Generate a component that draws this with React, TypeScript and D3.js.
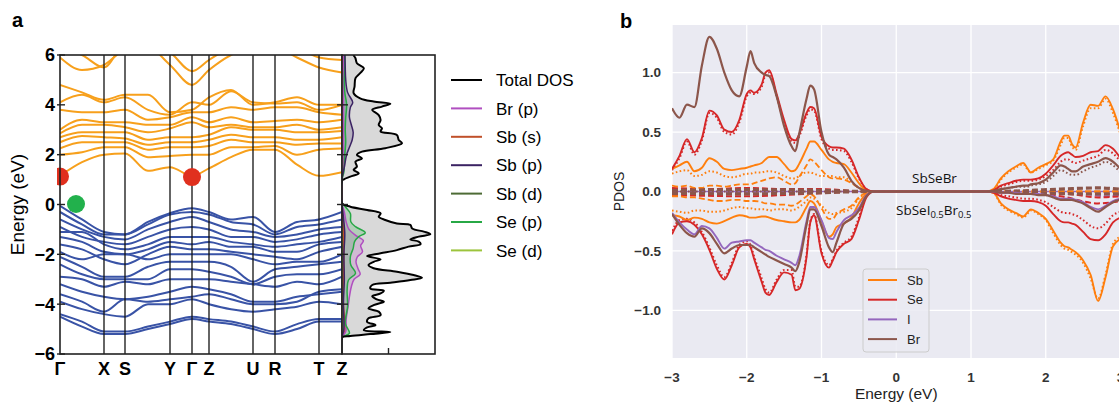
import React from "react";
import * as d3 from "d3";

// ---------------- Panel a data ----------------
const kLabels = ["Γ", "X", "S", "Y", "Γ", "Z", "U", "R", "T", "Z"];
const kTickPos = [0, 44, 65, 110, 132, 149, 193, 215, 259, 282];
const kSample = [0, 22, 44, 65, 88, 110, 132, 149, 171, 193, 215, 237, 259, 282];
const energyTicksA = [-6, -4, -2, 0, 2, 4, 6];

const conductionBands = [
  [1.15, 1.7, 2.0, 2.05, 1.35, 1.5, 1.15, 1.45, 1.9, 2.2, 2.2, 1.6, 1.15, 1.3],
  [2.0, 2.1, 2.3, 2.3, 1.9, 1.95, 2.0, 2.0, 2.3, 2.3, 2.35, 2.0, 2.2, 2.25],
  [2.25, 2.5, 2.5, 2.5, 2.2, 2.3, 2.3, 2.35, 2.6, 2.5, 2.5, 2.4, 2.45, 2.45],
  [2.5, 2.75, 2.7, 2.65, 2.4, 2.5, 2.5, 2.6, 2.8, 2.7, 2.7, 2.6, 2.6, 2.7],
  [2.7, 2.9, 2.9, 2.9, 2.6, 2.7, 2.7, 2.8, 3.1, 3.0, 3.0, 2.9, 2.9, 2.95],
  [2.85, 3.2, 3.2, 3.1, 2.9, 3.05, 3.3, 3.1, 3.2, 3.1, 3.1, 3.2, 3.0, 3.1],
  [3.0, 3.4, 3.3, 3.3, 3.2, 3.2, 3.5, 3.3, 3.5, 3.3, 3.35, 3.4, 3.3, 3.4],
  [3.8, 3.7, 3.7, 3.8, 3.4, 3.5, 3.7, 3.7, 3.9, 3.8, 3.9, 3.9, 3.7, 3.6],
  [4.1, 4.4, 4.1, 4.3, 3.8, 3.6, 4.1, 4.0, 4.55, 4.1, 4.05, 4.1, 3.8, 4.0],
  [4.8, 4.5, 4.2, 4.4, 4.4, 3.7, 3.8, 4.3, 4.6, 4.0, 4.1, 4.3, 4.0, 4.0],
  [5.9, 5.4, 5.6, 6.2, 6.3, 5.6, 4.8, 5.4, 6.0, 6.3, 6.3, 5.9, 5.5, 5.3],
  [6.3, 6.0, 5.5, 6.4, 6.4, 6.1, 5.35, 5.8, 6.3, 6.5, 6.5, 6.3, 5.9, 5.8],
];

const valenceBands = [
  [-0.05, -0.6, -1.1, -1.2, -0.7, -0.35, -0.15, -0.3, -0.6, -0.5, -1.1, -0.7, -0.6, -0.3],
  [-0.3, -0.8, -1.2, -1.2, -0.8, -0.4, -0.3, -0.4, -0.7, -0.8, -1.2, -0.9, -0.8, -0.6],
  [-0.6, -1.0, -1.3, -1.4, -1.0, -0.7, -0.5, -0.7, -1.0, -1.1, -1.3, -1.2, -1.0, -0.9],
  [-0.9, -1.3, -1.5, -1.6, -1.3, -1.0, -0.9, -1.0, -1.3, -1.3, -1.5, -1.4, -1.2, -1.1],
  [-1.1, -1.1, -1.6, -1.8, -1.6, -1.3, -1.3, -1.3, -1.5, -1.6, -1.7, -1.6, -1.5, -1.3],
  [-1.3, -1.5, -1.9, -2.0, -1.8, -1.5, -1.6, -1.5, -1.7, -1.7, -1.9, -1.9, -1.6, -1.5],
  [-1.6, -1.8, -2.2, -2.4, -2.0, -1.7, -1.8, -1.8, -1.9, -2.0, -2.1, -2.2, -1.9, -1.7],
  [-1.9, -2.2, -2.0, -2.0, -2.2, -2.0, -2.0, -2.0, -2.0, -2.2, -2.4, -2.3, -2.3, -2.0],
  [-2.1, -2.5, -2.9, -2.9, -2.5, -2.3, -2.3, -2.3, -2.5, -3.1, -2.6, -2.5, -2.4, -2.3],
  [-2.4, -2.8, -3.0, -3.0, -3.0, -2.6, -2.6, -2.7, -2.9, -3.2, -2.9, -2.8, -2.8, -2.6],
  [-2.9, -3.0, -3.3, -3.1, -3.2, -3.0, -3.0, -3.0, -3.1, -3.2, -3.3, -3.1, -3.2, -2.9],
  [-3.2, -3.5, -3.7, -3.8, -3.7, -3.5, -3.3, -3.4, -3.6, -3.9, -3.9, -3.7, -3.6, -3.5],
  [-3.6, -3.9, -4.3, -3.8, -3.9, -3.8, -3.7, -3.6, -3.8, -4.0, -4.0, -3.9, -3.5, -3.4],
  [-3.9, -4.2, -4.4, -4.5, -4.0, -4.0, -3.8, -4.0, -4.2, -4.3, -4.2, -4.1, -3.9, -4.0],
  [-4.4, -4.7, -5.1, -5.1, -4.9, -4.7, -4.5, -4.6, -4.7, -4.9, -5.1, -4.8, -4.6, -4.6],
  [-4.5, -4.9, -5.2, -5.2, -5.0, -4.8, -4.6, -4.7, -4.8, -5.0, -5.2, -5.0, -4.7, -4.7],
];

// band-edge markers: [k, E]
const cbmMarkers = [[0, 1.12], [132, 1.1]];
const vbmMarkers = [[16, 0.02]];

// total DOS: energy (eV) and DOS value
const dosEnergy = [
  -5.45, -5.33, -5.28, -5.2, -5.12, -5.04, -4.93, -4.84, -4.71, -4.57, -4.44, -4.3, -4.17, -4.04,
  -3.9, -3.81, -3.68, -3.57, -3.46, -3.37, -3.23, -3.14, -3.03, -2.94, -2.83, -2.7, -2.56, -2.43,
  -2.3, -2.2, -2.07, -1.96, -1.83, -1.69, -1.59, -1.49, -1.4, -1.29, -1.19, -1.09, -0.96, -0.82,
  -0.76, -0.62, -0.49, -0.36, -0.22, -0.09, 0.05, 0.95, 1.01, 1.12, 1.25, 1.39, 1.52, 1.72,
  1.85, 1.99, 2.12, 2.26, 2.46, 2.59, 2.79, 2.93, 3.06, 3.19, 3.39, 3.59, 3.8, 3.93, 4.04, 4.13,
  4.26, 4.47, 4.73, 5.07, 5.27, 5.47, 5.67, 5.87, 6.0, 6.2,
];
const dosTotal = [
  0, 0, 1.8, 6.1, 10.4, 4.7, 5.4, 7.2, 5.4, 5.7, 8.3, 7.9, 5.7, 6.8,
  9.0, 7.5, 6.5, 8.3, 9.0, 6.1, 6.5, 10.4, 14.7, 17.2, 15.4, 11.8, 6.8, 5.7,
  6.8, 8.3, 5.4, 8.3, 11.8, 14.3, 16.9, 16.5, 14.7, 16.5, 19.0, 17.6, 15.1, 14.7,
  11.8, 9.3, 7.9, 8.3, 5.4, 1.8, 0, 0, 0.4, 1.8, 3.6, 2.5, 3.2, 2.9,
  4.3, 3.2, 4.3, 9.3, 12.9, 12.2, 11.8, 8.3, 8.6, 7.9, 8.3, 7.9, 6.5, 8.6, 10.4, 6.8,
  3.9, 2.5, 2.7, 2.9, 3.9, 4.7, 3.2, 2.9, 2.5, 2.5,
];

// projected DOS, [energy, value]
const brPDos = [[-5.45, 0], [-5.33, 0], [-5.1, 0.8], [-4.6, 0.9], [-4.1, 1.3], [-3.7, 1.6], [-3.3, 2.0], [-3.0, 2.6], [-2.8, 3.9], [-2.6, 3.5], [-2.3, 3.0], [-2.1, 3.3], [-1.9, 4.4], [-1.65, 4.0], [-1.45, 4.6], [-1.25, 3.0], [-1.0, 1.5], [-0.7, 0.9], [-0.3, 0.5], [0.05, 0], [1.0, 0], [1.5, 0.2], [2.5, 0.3], [3.5, 0.3], [4.5, 0.3], [6.2, 0.3]];
const sbSPDos = [[-5.45, 0], [-5.33, 0], [-5.1, 0.6], [-4.5, 0.5], [-4.0, 0.3], [-3.0, 0.3], [-2.0, 0.4], [-1.0, 0.3], [0.05, 0], [1.0, 0], [1.5, 0.3], [2.5, 0.2], [4.0, 0.2], [6.2, 0.15]];
const sbPPDos = [[-5.45, 0], [-5.33, 0], [-5.0, 0.4], [-4.0, 0.3], [-3.0, 0.5], [-2.0, 0.4], [-1.2, 0.6], [-0.5, 0.3], [0.05, 0], [1.0, 0], [1.5, 0.5], [2.0, 1.0], [2.3, 1.6], [2.6, 2.2], [2.9, 2.4], [3.2, 2.0], [3.5, 1.6], [3.9, 1.8], [4.1, 2.3], [4.5, 1.2], [5.0, 0.8], [5.5, 0.7], [6.2, 0.6]];
const sbDPDos = [[-5.45, 0], [-5.33, 0], [-5.0, 0.15], [-3.0, 0.1], [-1.0, 0.1], [0.05, 0], [1.0, 0], [2.5, 0.1], [6.2, 0.1]];
const sePPDos = [[-5.45, 0], [-5.33, 0], [-5.17, 1.6], [-4.77, 0.7], [-4.1, 1.2], [-3.43, 1.1], [-3.03, 1.4], [-2.76, 2.9], [-2.43, 1.9], [-2.09, 1.8], [-1.76, 2.4], [-1.49, 2.7], [-1.29, 3.6], [-1.13, 5.0], [-0.89, 2.9], [-0.69, 1.9], [-0.36, 1.8], [-0.09, 0.7], [0.05, 0], [1.0, 0], [1.3, 0.4], [2.0, 0.6], [2.5, 0.8], [3.0, 0.7], [3.5, 0.8], [4.0, 1.0], [4.5, 0.6], [5.0, 0.5], [5.5, 0.6], [6.2, 0.6]];
const seDPDos = [[-5.45, 0], [-5.33, 0], [-4.0, 0.08], [-1.0, 0.08], [0.05, 0], [1.0, 0], [3.0, 0.08], [6.2, 0.08]];

const legendA = [
  { name: "Total DOS", color: "#000000" },
  { name: "Br (p)", color: "#b04fc0" },
  { name: "Sb (s)", color: "#c0502a" },
  { name: "Sb (p)", color: "#3b2363" },
  { name: "Sb (d)", color: "#4d6b35" },
  { name: "Se (p)", color: "#27a845" },
  { name: "Se (d)", color: "#9cc43c" },
];

// ---------------- Panel b data ----------------
const eVal = [-3.0, -2.9, -2.8, -2.7, -2.6, -2.5, -2.4, -2.3, -2.2, -2.1, -2.0, -1.95, -1.9, -1.8, -1.75, -1.7, -1.6, -1.5, -1.4, -1.35, -1.3, -1.2, -1.15, -1.1, -1.0, -0.9, -0.85, -0.8, -0.7, -0.6, -0.5, -0.4, -0.3];
const eCond = [1.2, 1.3, 1.4, 1.5, 1.6, 1.7, 1.75, 1.8, 1.9, 2.0, 2.1, 2.2, 2.25, 2.3, 2.35, 2.4, 2.5, 2.6, 2.7, 2.8, 2.9, 3.0];

// SbSeBr (positive)
const sbTopV = [0.19, 0.22, 0.25, 0.17, 0.20, 0.28, 0.25, 0.19, 0.18, 0.19, 0.20, 0.21, 0.22, 0.24, 0.27, 0.29, 0.29, 0.23, 0.17, 0.18, 0.23, 0.36, 0.42, 0.42, 0.35, 0.27, 0.25, 0.24, 0.23, 0.16, 0.07, 0.01, 0];
const sbTopC = [0, 0.02, 0.11, 0.17, 0.21, 0.24, 0.20, 0.16, 0.20, 0.23, 0.27, 0.42, 0.47, 0.47, 0.40, 0.37, 0.58, 0.73, 0.72, 0.80, 0.69, 0.50];
const sbTopDotV = [0.15, 0.17, 0.18, 0.13, 0.14, 0.17, 0.16, 0.13, 0.12, 0.13, 0.15, 0.15, 0.16, 0.16, 0.17, 0.17, 0.16, 0.13, 0.11, 0.11, 0.13, 0.16, 0.16, 0.15, 0.13, 0.13, 0.13, 0.12, 0.12, 0.08, 0.03, 0.01, 0];
const sbTopDotC = [0, 0.01, 0.10, 0.16, 0.20, 0.23, 0.19, 0.16, 0.19, 0.22, 0.26, 0.39, 0.45, 0.45, 0.38, 0.35, 0.55, 0.70, 0.70, 0.78, 0.66, 0.48];
const sbTopDashV = [0.05, 0.04, 0.05, 0.03, 0.03, 0.05, 0.05, 0.04, 0.05, 0.06, 0.06, 0.06, 0.07, 0.09, 0.10, 0.11, 0.12, 0.09, 0.06, 0.07, 0.12, 0.22, 0.27, 0.25, 0.18, 0.12, 0.11, 0.11, 0.10, 0.07, 0.03, 0.01, 0];
const seTopV = [0.19, 0.30, 0.44, 0.33, 0.45, 0.68, 0.64, 0.52, 0.50, 0.60, 0.82, 0.85, 0.83, 0.90, 1.00, 1.02, 0.82, 0.60, 0.44, 0.43, 0.48, 0.66, 0.71, 0.70, 0.46, 0.38, 0.37, 0.37, 0.36, 0.27, 0.12, 0.02, 0];
const seTopC = [0, 0.01, 0.05, 0.07, 0.09, 0.10, 0.10, 0.10, 0.11, 0.15, 0.22, 0.30, 0.32, 0.33, 0.31, 0.29, 0.30, 0.33, 0.34, 0.39, 0.36, 0.28];
const seTopDotV = [0.18, 0.28, 0.42, 0.31, 0.43, 0.66, 0.62, 0.50, 0.48, 0.58, 0.80, 0.83, 0.82, 0.88, 0.98, 1.00, 0.80, 0.58, 0.42, 0.41, 0.46, 0.64, 0.69, 0.68, 0.44, 0.36, 0.35, 0.35, 0.34, 0.25, 0.11, 0.02, 0];
const seTopDotC = [0, 0.01, 0.04, 0.06, 0.08, 0.09, 0.09, 0.09, 0.10, 0.13, 0.18, 0.25, 0.27, 0.27, 0.25, 0.24, 0.26, 0.28, 0.30, 0.35, 0.32, 0.25];
const brTopV = [0.70, 0.62, 0.73, 0.71, 1.06, 1.30, 1.20, 1.00, 0.85, 0.80, 1.05, 1.18, 1.08, 1.00, 0.98, 0.97, 0.80, 0.55, 0.38, 0.34, 0.48, 0.78, 0.89, 0.86, 0.50, 0.31, 0.29, 0.27, 0.20, 0.09, 0.03, 0.005, 0];
const brTopC = [0, 0.005, 0.02, 0.03, 0.04, 0.05, 0.05, 0.06, 0.07, 0.10, 0.16, 0.22, 0.21, 0.19, 0.17, 0.17, 0.21, 0.23, 0.25, 0.28, 0.25, 0.19];
const brTopDotC = [0, 0.005, 0.02, 0.03, 0.04, 0.04, 0.04, 0.05, 0.06, 0.08, 0.13, 0.18, 0.17, 0.15, 0.14, 0.14, 0.17, 0.20, 0.22, 0.25, 0.22, 0.16];

// SbSeI0.5Br0.5 (negative)
const sbBotV = [-0.20, -0.21, -0.24, -0.22, -0.23, -0.26, -0.27, -0.25, -0.22, -0.20, -0.21, -0.22, -0.22, -0.21, -0.21, -0.22, -0.24, -0.25, -0.26, -0.26, -0.24, -0.13, -0.08, -0.10, -0.25, -0.38, -0.36, -0.30, -0.27, -0.22, -0.10, -0.02, 0];
const sbBotC = [0, -0.01, -0.10, -0.15, -0.18, -0.21, -0.18, -0.15, -0.18, -0.23, -0.33, -0.43, -0.46, -0.47, -0.49, -0.51, -0.58, -0.70, -0.92, -0.72, -0.46, -0.40];
const sbBotDotV = [-0.16, -0.17, -0.18, -0.16, -0.16, -0.17, -0.17, -0.16, -0.14, -0.13, -0.14, -0.14, -0.15, -0.15, -0.15, -0.16, -0.15, -0.15, -0.16, -0.15, -0.13, -0.08, -0.05, -0.06, -0.12, -0.18, -0.19, -0.18, -0.17, -0.14, -0.06, -0.01, 0];
const sbBotDotC = [0, -0.01, -0.11, -0.16, -0.19, -0.22, -0.19, -0.16, -0.19, -0.24, -0.35, -0.45, -0.48, -0.49, -0.51, -0.53, -0.60, -0.73, -0.90, -0.70, -0.44, -0.38];
const sbBotDashV = [-0.04, -0.04, -0.05, -0.05, -0.06, -0.07, -0.08, -0.08, -0.07, -0.07, -0.08, -0.08, -0.08, -0.09, -0.10, -0.10, -0.11, -0.11, -0.12, -0.11, -0.09, -0.04, -0.02, -0.04, -0.14, -0.23, -0.23, -0.19, -0.15, -0.12, -0.05, -0.01, 0];
const seBotV = [-0.36, -0.26, -0.25, -0.28, -0.36, -0.49, -0.65, -0.74, -0.62, -0.47, -0.44, -0.47, -0.57, -0.76, -0.85, -0.87, -0.76, -0.68, -0.70, -0.83, -0.82, -0.55, -0.26, -0.20, -0.52, -0.64, -0.58, -0.51, -0.44, -0.40, -0.24, -0.05, 0];
const seBotC = [0, -0.01, -0.04, -0.06, -0.07, -0.08, -0.08, -0.08, -0.09, -0.12, -0.19, -0.25, -0.26, -0.26, -0.27, -0.28, -0.34, -0.40, -0.41, -0.36, -0.26, -0.22];
const seBotDotV = [-0.33, -0.24, -0.23, -0.26, -0.34, -0.47, -0.62, -0.72, -0.60, -0.45, -0.42, -0.45, -0.55, -0.73, -0.82, -0.85, -0.74, -0.66, -0.66, -0.80, -0.80, -0.53, -0.25, -0.19, -0.50, -0.62, -0.57, -0.50, -0.43, -0.38, -0.22, -0.04, 0];
const seBotDotC = [0, -0.01, -0.03, -0.04, -0.05, -0.06, -0.06, -0.06, -0.07, -0.09, -0.13, -0.17, -0.18, -0.18, -0.19, -0.20, -0.24, -0.29, -0.31, -0.27, -0.20, -0.17];
const iBotV = [-0.18, -0.26, -0.32, -0.36, -0.29, -0.31, -0.39, -0.48, -0.43, -0.42, -0.41, -0.41, -0.43, -0.47, -0.49, -0.50, -0.54, -0.57, -0.60, -0.62, -0.55, -0.25, -0.13, -0.13, -0.24, -0.39, -0.40, -0.34, -0.24, -0.20, -0.14, -0.03, 0];
const iBotC = [0, 0, -0.01, -0.01, -0.01, -0.02, -0.02, -0.02, -0.02, -0.03, -0.04, -0.06, -0.06, -0.06, -0.06, -0.07, -0.09, -0.13, -0.15, -0.12, -0.08, -0.06];
const brBotV = [-0.19, -0.28, -0.35, -0.38, -0.31, -0.35, -0.44, -0.52, -0.48, -0.45, -0.45, -0.45, -0.47, -0.51, -0.53, -0.55, -0.58, -0.61, -0.64, -0.67, -0.60, -0.28, -0.15, -0.15, -0.29, -0.47, -0.51, -0.43, -0.27, -0.23, -0.16, -0.04, 0];
const brBotC = [0, 0, -0.01, -0.01, -0.02, -0.02, -0.02, -0.02, -0.03, -0.03, -0.05, -0.07, -0.07, -0.07, -0.07, -0.08, -0.10, -0.14, -0.17, -0.13, -0.09, -0.07];

// near-zero orbital components, [energy, value]
const brTopDash = [[-3, 0.01], [-2, 0.015], [-1, 0.01], [-0.4, 0], [1.3, 0], [2.2, 0.02], [2.7, 0.03], [3, 0.02]];
const brBotDash = [[-3, -0.015], [-2, -0.02], [-1, -0.01], [-0.4, 0], [1.3, 0], [2.5, -0.02], [3, -0.02]];
const seTopDash = [[-3, 0.03], [-2.5, 0.02], [-2, 0.03], [-1.5, 0.02], [-1, 0.02], [-0.4, 0], [1.3, 0], [2.3, -0.02], [2.7, -0.05], [3, -0.04]];
const seBotDash = [[-3, -0.03], [-2, -0.04], [-1.2, -0.02], [-0.4, 0], [1.3, 0], [2.2, -0.04], [2.7, -0.1], [3, -0.08]];
const iTopLine = [[-3, 0], [3, 0]];
const iBotDash = [[-3, -0.005], [1.3, 0], [2.5, -0.02], [2.8, -0.04], [3, -0.03]];

const xTicksB = [-3, -2, -1, 0, 1, 2, 3];
const yTicksB = [-1.0, -0.5, 0.0, 0.5, 1.0];
const legendB = [
  { name: "Sb", color: "#ff7f0e" },
  { name: "Se", color: "#d62728" },
  { name: "I", color: "#9467bd" },
  { name: "Br", color: "#8c564b" },
];

const SB = "#ff7f0e", SE = "#d62728", IC = "#9467bd", BR = "#8c564b";
const ORANGE_BAND = "#f7a01c", BLUE_BAND = "#3953a6";

const fmtMinus = (s: string) => s.replace("-", "\u2212");

function joinSeries(v: number[] | null, c: number[] | null): [number, number][] {
  const pts: [number, number][] = [];
  eVal.forEach((e, i) => pts.push([e, v ? v[i] ?? 0 : 0]));
  eCond.forEach((e, i) => pts.push([e, c ? c[i] ?? 0 : 0]));
  return pts;
}

export default function App() {
  const fontA = "'Liberation Sans', Arial, Helvetica, sans-serif";

  // panel a scales
  const yA = d3.scaleLinear().domain([-6, 6]).range([354, 55]);
  const xK = d3.scaleLinear().domain([0, 282]).range([60, 342]);
  const xD = d3.scaleLinear().domain([0, 20]).range([342, 435]);

  const bandLine = d3
    .line<number>()
    .x((_, i) => xK(kSample[i]))
    .y((d) => yA(d))
    .curve(d3.curveMonotoneX);

  const dosPts: [number, number][] = dosEnergy.map((e, i) => [e, dosTotal[i]]);
  const dosArea = d3
    .area<[number, number]>()
    .y((d) => yA(d[0]))
    .x0(xD(0))
    .x1((d) => xD(d[1]))
    .curve(d3.curveCatmullRom.alpha(0.5));
  const dosLine = d3
    .line<[number, number]>()
    .y((d) => yA(d[0]))
    .x((d) => xD(d[1]))
    .curve(d3.curveCatmullRom.alpha(0.5));

  const pdos = [
    { d: sbDPDos, color: "#4d6b35", fill: false },
    { d: seDPDos, color: "#9cc43c", fill: false },
    { d: sbSPDos, color: "#c0502a", fill: false },
    { d: brPDos, color: "#b04fc0", fill: true },
    { d: sePPDos, color: "#27a845", fill: true },
    { d: sbPPDos, color: "#3b2363", fill: true },
  ];

  // panel b scales
  const xB = d3.scaleLinear().domain([-3, 3]).range([672, 1120.5]);
  const yB = d3.scaleLinear().domain([-1.4, 1.4]).range([358, 25]);
  const lineB = d3
    .line<[number, number]>()
    .x((d) => xB(d[0]))
    .y((d) => yB(d[1]))
    .curve(d3.curveMonotoneX);

  const dashStyle: Record<string, string | undefined> = {
    solid: undefined,
    dot: "1.6,2.4",
    dash: "6,3",
  };

  const seriesB = [
    { pts: iTopLine as [number, number][], color: IC, s: "solid", w: 1.6 },
    { pts: iBotDash as [number, number][], color: IC, s: "dash", w: 2 },
    { pts: seTopDash as [number, number][], color: SE, s: "dash", w: 2 },
    { pts: seBotDash as [number, number][], color: SE, s: "dash", w: 2 },
    { pts: joinSeries(sbTopDashV, null), color: SB, s: "dash", w: 1.8 },
    { pts: joinSeries(sbBotDashV, null), color: SB, s: "dash", w: 1.8 },
    { pts: joinSeries(sbTopDotV, sbTopDotC), color: SB, s: "dot", w: 2 },
    { pts: joinSeries(sbBotDotV, sbBotDotC), color: SB, s: "dot", w: 2 },
    { pts: joinSeries(seTopDotV, seTopDotC), color: SE, s: "dot", w: 2 },
    { pts: joinSeries(seBotDotV, seBotDotC), color: SE, s: "dot", w: 2 },
    { pts: joinSeries(null, brTopDotC), color: BR, s: "dot", w: 2 },
    { pts: brTopDash as [number, number][], color: BR, s: "dash", w: 3.2 },
    { pts: brBotDash as [number, number][], color: BR, s: "dash", w: 3.2 },
    { pts: joinSeries(sbTopV, sbTopC), color: SB, s: "solid", w: 1.9 },
    { pts: joinSeries(sbBotV, sbBotC), color: SB, s: "solid", w: 1.9 },
    { pts: joinSeries(seTopV, seTopC), color: SE, s: "solid", w: 1.9 },
    { pts: joinSeries(seBotV, seBotC), color: SE, s: "solid", w: 1.9 },
    { pts: joinSeries(iBotV, iBotC), color: IC, s: "solid", w: 1.9 },
    { pts: joinSeries(brTopV, brTopC), color: BR, s: "solid", w: 2.2 },
    { pts: joinSeries(brBotV, brBotC), color: BR, s: "solid", w: 2.2 },
  ];

  const legendRowsA = legendA.map((l, i) => ({ ...l, y: 80 + i * 28.4 }));

  return (
    <svg
      width={1119}
      height={402}
      style={{ position: "absolute", left: 0, top: 0, background: "#ffffff" }}
      fontFamily={fontA}
    >
      <defs>
        <clipPath id="clipBands">
          <rect x={60} y={55} width={282} height={299} />
        </clipPath>
        <clipPath id="clipDots">
          <rect x={57} y={55} width={285} height={299} />
        </clipPath>
        <clipPath id="clipDos">
          <rect x={342} y={55} width={93} height={299} />
        </clipPath>
        <clipPath id="clipB">
          <rect x={672} y={25} width={449} height={333} />
        </clipPath>
      </defs>

      {/* ---------------- Panel a ---------------- */}
      <text x={12} y={27} fontSize={20} fontWeight="bold">a</text>

      <g clipPath="url(#clipBands)">
        {conductionBands.map((b, i) => (
          <path key={"cb" + i} d={bandLine(b) || ""} fill="none" stroke={ORANGE_BAND} strokeWidth={2} />
        ))}
        {valenceBands.map((b, i) => (
          <path key={"vb" + i} d={bandLine(b) || ""} fill="none" stroke={BLUE_BAND} strokeWidth={2} />
        ))}
      </g>
      {kTickPos.slice(1, -1).map((k, i) => (
        <line key={"kv" + i} x1={xK(k)} x2={xK(k)} y1={55} y2={354} stroke="#111" strokeWidth={1.3} />
      ))}
      <g clipPath="url(#clipDots)">
        {cbmMarkers.map((m, i) => (
          <circle key={"cbm" + i} cx={xK(m[0])} cy={yA(m[1])} r={9} fill="#e0301e" />
        ))}
        {vbmMarkers.map((m, i) => (
          <circle key={"vbm" + i} cx={xK(m[0])} cy={yA(m[1])} r={9} fill="#22b14c" />
        ))}
      </g>
      <rect x={60} y={55} width={282} height={299} fill="none" stroke="#222" strokeWidth={1.6} />
      {energyTicksA.map((t) => (
        <g key={"ya" + t}>
          <line x1={57} x2={65} y1={yA(t)} y2={yA(t)} stroke="#222" strokeWidth={1.4} />
          <text x={55} y={yA(t)} dy="0.36em" textAnchor="end" fontSize={18} fontWeight="bold">
            {fmtMinus(String(t))}
          </text>
        </g>
      ))}
      <text
        transform={`translate(24,${yA(0)}) rotate(-90)`}
        textAnchor="middle"
        fontSize={19}
      >
        Energy (eV)
      </text>
      {kTickPos.map((k, i) => (
        <text key={"kl" + i} x={xK(k)} y={375} textAnchor="middle" fontSize={18} fontWeight="bold">
          {kLabels[i]}
        </text>
      ))}

      {/* DOS panel */}
      <g clipPath="url(#clipDos)">
        <path d={dosArea(dosPts) || ""} fill="#d9d9d9" stroke="none" />
        {pdos.map((p, i) =>
          p.fill ? (
            <path
              key={"pf" + i}
              d={dosArea(p.d as [number, number][]) || ""}
              fill={p.color}
              fillOpacity={0.22}
              stroke="none"
            />
          ) : null
        )}
        {pdos.map((p, i) => (
          <path
            key={"pl" + i}
            d={dosLine(p.d as [number, number][]) || ""}
            fill="none"
            stroke={p.color}
            strokeWidth={1.5}
          />
        ))}
        <path d={dosLine(dosPts) || ""} fill="none" stroke="#000" strokeWidth={2} />
      </g>
      <rect x={342} y={55} width={93} height={299} fill="none" stroke="#222" strokeWidth={1.6} />
      {energyTicksA.slice(1, -1).map((t) => (
        <line key={"dt" + t} x1={337} x2={348} y1={yA(t)} y2={yA(t)} stroke="#222" strokeWidth={1.4} />
      ))}
      <line x1={xD(10)} x2={xD(10)} y1={354} y2={348} stroke="#222" strokeWidth={1.4} />

      {/* legend a */}
      {legendRowsA.map((l) => (
        <g key={"la" + l.name}>
          <line x1={451} x2={482} y1={l.y} y2={l.y} stroke={l.color} strokeWidth={2} />
          <text x={496} y={l.y} dy="0.36em" fontSize={17}>
            {l.name}
          </text>
        </g>
      ))}

      {/* ---------------- Panel b ---------------- */}
      <text x={620} y={28} fontSize={20} fontWeight="bold">b</text>
      <rect x={672} y={25} width={449} height={333} fill="#eaeaf2" />
      {xTicksB.map((t) => (
        <line key={"gx" + t} x1={xB(t)} x2={xB(t)} y1={25} y2={358} stroke="#ffffff" strokeWidth={1.3} />
      ))}
      {yTicksB.map((t) => (
        <line key={"gy" + t} x1={672} x2={1121} y1={yB(t)} y2={yB(t)} stroke="#ffffff" strokeWidth={1.3} />
      ))}
      <g clipPath="url(#clipB)">
        {seriesB.map((s, i) => (
          <path
            key={"sb" + i}
            d={lineB(s.pts) || ""}
            fill="none"
            stroke={s.color}
            strokeWidth={s.w}
            strokeDasharray={dashStyle[s.s]}
            strokeLinejoin="round"
          />
        ))}
      </g>
      {yTicksB.map((t) => (
        <text key={"ty" + t} x={661} y={yB(t)} dy="0.36em" textAnchor="end" fontSize={13.5} fontWeight="bold" fill="#333">
          {fmtMinus(t.toFixed(1))}
        </text>
      ))}
      {xTicksB.map((t) => (
        <text key={"tx" + t} x={xB(t)} y={382} textAnchor="middle" fontSize={13.5} fontWeight="bold" fill="#333">
          {fmtMinus(String(t))}
        </text>
      ))}
      <text transform={`translate(624,${yB(0)}) rotate(-90)`} textAnchor="middle" fontSize={14} fill="#222">
        PDOS
      </text>
      <text x={xB(0)} y={399} textAnchor="middle" fontSize={15.5} fill="#222">
        Energy (eV)
      </text>

      <text x={912} y={183} fontSize={13.5} fontFamily="'Open Sans', 'Noto Sans', sans-serif" fill="#111">
        SbSeBr
      </text>
      <text x={896} y={215} fontSize={13.5} fontFamily="'Open Sans', 'Noto Sans', sans-serif" fill="#111">
        SbSeI
        <tspan fontSize={9.5} dy={3}>0.5</tspan>
        <tspan dy={-3}>Br</tspan>
        <tspan fontSize={9.5} dy={3}>0.5</tspan>
      </text>

      {/* legend b */}
      <rect x={863} y={269} width={66} height={83} rx={3} fill="#eaeaf2" fillOpacity={0.85} stroke="#cccccc" />
      {legendB.map((l, i) => (
        <g key={"lb" + l.name}>
          <line x1={868} x2={897} y1={280 + i * 19.7} y2={280 + i * 19.7} stroke={l.color} strokeWidth={2} />
          <text x={907} y={280 + i * 19.7} dy="0.36em" fontSize={13} fill="#222">
            {l.name}
          </text>
        </g>
      ))}
    </svg>
  );
}
